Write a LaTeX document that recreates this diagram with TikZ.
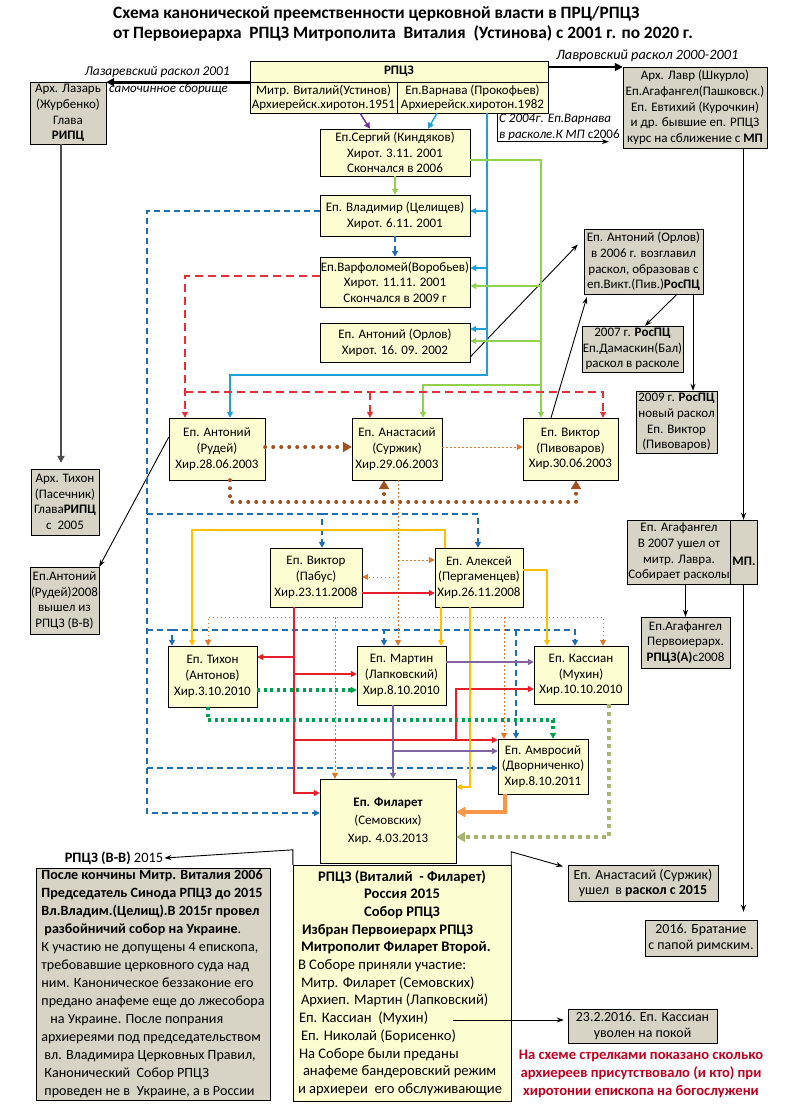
\documentclass[tikz,border=0pt]{standalone}
\usepackage{fontspec}
\setmainfont{Carlito}
\usetikzlibrary{arrows.meta}
\definecolor{yfill}{RGB}{253,253,210}
\definecolor{gfill}{RGB}{215,212,198}
\definecolor{cyanc}{RGB}{30,160,220}
\definecolor{greenc}{RGB}{146,208,80}
\definecolor{bluec}{RGB}{31,110,180}
\definecolor{reddc}{RGB}{225,50,60}
\definecolor{brownc}{RGB}{160,82,30}
\definecolor{orgc}{RGB}{225,120,40}
\definecolor{redc}{RGB}{230,30,40}
\definecolor{yelc}{RGB}{255,192,0}
\definecolor{grndc}{RGB}{0,160,80}
\definecolor{purpc}{RGB}{128,100,162}
\definecolor{orgtc}{RGB}{247,150,70}
\definecolor{olivec}{RGB}{165,180,110}
\definecolor{notec}{RGB}{192,0,32}
\definecolor{vitpurp}{RGB}{112,48,160}
\newcommand\boxfont{\fontsize{13}{15.7}\selectfont}
\newcommand\lowfont{\fontsize{13.9}{15.7}\selectfont}
\begin{document}
\begin{tikzpicture}[x=1pt,y=-1pt,
  ybox/.style={draw,fill=yfill,inner sep=1pt,align=center,font=\boxfont},
  gbox/.style={ybox,fill=gfill},
  lbl/.style={inner sep=1pt,font=\boxfont\itshape},
  tipped/.style={-{Triangle[length=6pt,width=6pt]}},
  bluedash/.style={tipped,bluec,line width=1.8pt,dash pattern=on 6pt off 4pt},
  reddash/.style={tipped,reddc,line width=1.1pt,dash pattern=on 8pt off 5pt},
  cyanline/.style={tipped,cyanc,line width=1.8pt},
  greenline/.style={tipped,greenc,line width=2.4pt},
  browndots/.style={-{Triangle[length=9pt,width=10pt]},brownc,line width=4pt,line cap=round,dash pattern=on 0pt off 8pt},
  orangedots/.style={tipped,orgc,line width=1pt,dash pattern=on 1.5pt off 2.5pt},
  redline/.style={tipped,redc,line width=1.5pt},
  yellowline/.style={tipped,yelc,line width=2.8pt},
  greendots/.style={tipped,grndc,line width=3.2pt,dash pattern=on 3pt off 3.5pt},
  purpleline/.style={tipped,purpc,line width=1.8pt},
  orangeline/.style={-{Triangle[length=9pt,width=10pt]},orgtc,line width=4pt},
  olivedots/.style={-{Triangle[length=9pt,width=10pt]},olivec,line width=4pt,dash pattern=on 4pt off 4pt},
  blackarrow/.style={-{Stealth[length=7pt,width=5pt]},line width=0.9pt},
  thickarrow/.style={-{Triangle[length=8pt,width=8pt]},line width=2.6pt}]
\useasboundingbox (0,0) rectangle (794,1116);

\node[anchor=west,align=left,inner sep=0pt,font=\fontsize{17.3}{20}\selectfont\bfseries] (title) at (113,24)
  {Схема канонической преемственности церковной власти в ПРЦ/РПЦЗ\\от Первоиерарха\ \ РПЦЗ Митрополита\ \ Виталия\ \ (Устинова) с 2001 г. по 2020 г.};

\node[ybox,minimum width=298,minimum height=21,font=\boxfont\bfseries] (rpcz) at (399,71.5) {РПЦЗ};
\node[ybox,minimum width=147,minimum height=31,inner sep=0pt,font=\fontsize{13}{14}\selectfont] (vitaly) at (323.5,97.5) {Митр. Виталий(Устинов)\\Архиерейск.хиротон.1951};
\node[ybox,minimum width=151,minimum height=31,inner sep=0pt,font=\fontsize{13}{14}\selectfont] (varnava) at (472.5,97.5) {Еп.Варнава (Прокофьев)\\Архиерейск.хиротон.1982};

\node[gbox,minimum width=76,minimum height=62] (lazar) at (68,113) {Арх. Лазарь\\(Журбенко)\\Глава\\\textbf{РИПЦ}};
\node[lbl,anchor=east,font=\fontsize{13.4}{15.7}\selectfont\itshape] (lazlbl) at (231,72) {Лазаревский раскол 2001};
\node[lbl,anchor=west] (samlbl) at (108,89) {самочинное сборище};
\node[lbl,anchor=west,font=\fontsize{14.3}{15.7}\selectfont\itshape] (lavrlbl) at (555,56) {Лавровский раскол 2000-2001};
\node[gbox,minimum width=144,minimum height=81] (lavr) at (695,107.5) {Арх. Лавр (Шкурло)\\Еп.Агафангел(Пашковск.)\\Еп. Евтихий (Курочкин)\\и др. бывшие еп. РПЦЗ\\курс на сближение с \textbf{МП}};
\node[lbl,anchor=north west,align=left,inner xsep=2pt] (varnlbl) at (497,113) {С 2004г. Еп.Варнава\\в расколе.К МП \textup{с2006}};

\node[ybox,minimum width=150,minimum height=47] (sergiy) at (395,152.5) {Еп.Сергий (Киндяков)\\Хирот. 3.11. 2001\\Скончался в 2006};
\node[ybox,minimum width=150,minimum height=41] (vlad) at (395,215.5) {Еп. Владимир (Целищев)\\Хирот. 6.11. 2001};
\node[ybox,minimum width=150,minimum height=50] (varf) at (395,282) {Еп.Варфоломей(Воробьев)\\Хирот. 11.11. 2001\\Скончался в 2009 г};
\node[ybox,minimum width=150,minimum height=39] (antorl) at (395,342.5) {Еп. Антоний (Орлов)\\Хирот. 16. 09. 2002};

\node[gbox,minimum width=119,minimum height=65] (orl2006) at (643.5,261.5) {Еп. Антоний (Орлов)\\в 2006 г. возглавил\\раскол, образовав с\\еп.Викт.(Пив.)\textbf{РосПЦ}};
\node[gbox,minimum width=99,minimum height=46] (r2007) at (632.5,349) {2007 г. \textbf{РосПЦ}\\Еп.Дамаскин(Бал)\\раскол в расколе};
\node[gbox,minimum width=81,minimum height=62] (r2009) at (676.5,422) {2009 г. \textbf{РосПЦ}\\новый раскол\\Еп. Виктор\\(Пивоваров)};

\node[ybox,minimum width=96,minimum height=62] (antrud) at (217,449) {Еп. Антоний\\(Рудей)\\Хир.28.06.2003};
\node[ybox,minimum width=90,minimum height=62] (anast) at (397,449) {Еп. Анастасий\\(Суржик)\\Хир.29.06.2003};
\node[ybox,minimum width=95,minimum height=62] (vikpiv) at (570.5,449) {Еп. Виктор\\(Пивоваров)\\Хир.30.06.2003};

\node[gbox,minimum width=68,minimum height=66] (tikhonp) at (65,502) {Арх. Тихон\\(Пасечник)\\Глава\textbf{РИПЦ}\\с\ \ 2005};
\node[gbox,minimum width=69,minimum height=67] (ant2008) at (64.5,600.5) {Еп.Антоний\\(Рудей)2008\\вышел из\\РПЦЗ (В-В)};

\node[gbox,minimum width=102,minimum height=64] (agafl) at (679,552) {Еп. Агафангел\\В 2007 ушел от\\митр. Лавра.\\Собирает расколы};
\node[gbox,minimum width=27,minimum height=64] (agafmp) at (743.5,552) {};
\node[inner sep=0pt,font=\boxfont\bfseries] (mplbl) at (744,561) {МП.};
\node[gbox,minimum width=89,minimum height=51] (agaf2) at (685.5,642.5) {Еп.Агафангел\\Первоиерарх.\\\textbf{РПЦЗ(А)}с2008};

\node[ybox,minimum width=92,minimum height=59] (pabus) at (316,577.5) {Еп. Виктор\\(Пабус)\\Хир.23.11.2008};
\node[ybox,minimum width=88,minimum height=59] (alexey) at (479,577.5) {Еп. Алексей\\(Пергаменцев)\\Хир.26.11.2008};
\node[ybox,minimum width=89,minimum height=61] (tikhon) at (212.5,676.5) {Еп. Тихон\\(Антонов)\\Хир.3.10.2010};
\node[ybox,minimum width=89,minimum height=59] (martin) at (401.5,675.5) {Еп. Мартин\\(Лапковский)\\Хир.8.10.2010};
\node[ybox,minimum width=94,minimum height=58] (kassian) at (581,675) {Еп. Кассиан\\(Мухин)\\Хир.10.10.2010};
\node[ybox,minimum width=90,minimum height=55] (amb) at (543,766.5) {Еп. Амвросий\\(Дворниченко)\\Хир.8.10.2011};
\node[ybox,minimum width=136,minimum height=84,font=\fontsize{13}{17.8}\selectfont] (filaret) at (388,821) {\textbf{Еп. Филарет}\\(Семовских)\\Хир. 4.03.2013};

\node[ybox,minimum width=218,minimum height=236,align=left,inner xsep=4pt,font=\fontsize{14.6}{17.7}\selectfont] (sobor) at (402,983)
  {\makebox[208pt]{\bfseries РПЦЗ (Виталий\ \ - Филарет)}\\\makebox[208pt]{\bfseries Россия 2015}\\\makebox[208pt]{\bfseries Собор РПЦЗ}\\
   \hspace*{4pt}\textbf{Избран Первоиерарх РПЦЗ}\\\hspace*{3pt}\textbf{Митрополит Филарет Второй.}\\В Соборе приняли участие:\\
   \hspace*{3pt}Митр. Филарет (Семовских)\\\hspace*{3pt}Архиеп. Мартин (Лапковский)\\\hspace*{1pt}Еп. Кассиан\ \ (Мухин)\\
   \hspace*{3pt}Еп. Николай (Борисенко)\\\hspace*{1pt}На Соборе были преданы\\\hspace*{5pt}анафеме бандеровский режим\\и архиереи\ \ его обслуживающие};
\coordinate (kasend) at (453,1020);
\node[gbox,minimum width=234,minimum height=232,align=left,inner xsep=1pt,font=\fontsize{14.1}{18}\selectfont] (posle) at (153,984)
  {\textbf{После кончины Митр. Виталия 2006}\\\textbf{Председатель Синода РПЦЗ до 2015}\\\textbf{Вл.Владим.(Целищ).В 2015г провел}\\
   \hspace*{3pt}\textbf{разбойничий собор на Украине}.\\К участию не допущены 4 епископа,\\требовавшие церковного суда над\\
   ним. Каноническое беззаконие его\\предано анафеме еще до лжесобора\\\hspace*{9pt}на Украине. После попрания\\
   архиереями под председательством\\\hspace*{3pt}вл. Владимира Церковных Правил,\\\hspace*{3pt}Канонический\ \ Собор РПЦЗ\\
   \hspace*{3pt}проведен не в\ \ Украине, а в России};
\node[inner sep=1pt,font=\fontsize{14.4}{15.7}\selectfont] (rpczvv) at (114,858) {\textbf{РПЦЗ (В-В)} 2015};
\node[gbox,minimum width=150,minimum height=36,font=\lowfont] (anastraskol) at (643,883) {Еп. Анастасий (Суржик)\\ушел\ \ в \textbf{раскол с 2015}};
\node[gbox,minimum width=112,minimum height=36,font=\lowfont] (bratanie) at (701,938) {2016. Братание\\с папой римским.};
\node[gbox,minimum width=149,minimum height=34,font=\lowfont] (kassianpokoy) at (642.5,1026) {23.2.2016. Еп. Кассиан\\уволен на покой};
\node[align=center,text=notec,font=\fontsize{14.6}{17.8}\selectfont\bfseries] (note) at (641,1074)
  {На схеме стрелками показано сколько\\архиереев присутствовало (и кто) при\\хиротонии епископа на богослужени};

% black arrows
\draw[thickarrow] (rpcz.south west) -- (lazar.east |- rpcz.south west);
\draw[thickarrow,line width=1.6pt] (rpcz.east |- 0,67) -- (lavr.west |- 0,67);
\draw[line width=0.8pt] (varnlbl.north west) -- (varnlbl.south west);
\draw[blackarrow,line width=1.4pt,shorten >=14pt] (varnlbl.south west) -- (lavr.west |- varnlbl.south west);
\draw[-{Triangle[length=7pt,width=7pt]},line width=1.8pt,black!70,shorten >=6pt] (61,0 |- lazar.south) -- (61,0 |- tikhonp.north);
\draw[blackarrow] (antorl.east |- 0,357) -- ([shift={(-6pt,17pt)}]orl2006.west);
\draw[blackarrow] (551,0 |- vikpiv.north) -- ([shift={(3pt,-3pt)}]orl2006.south west);
\draw[blackarrow] (677,0 |- orl2006.south) -- (645,0 |- r2007.north);
\draw[blackarrow] (693,0 |- orl2006.south) -- (693,0 |- r2009.north);
\draw[blackarrow,line width=1.2pt] (agafmp.north |- lavr.south) -- (agafmp.north);
\draw[blackarrow] (agaf2.north |- agafl.south) -- (agaf2.north);
\draw[blackarrow,line width=1.2pt,shorten >=8pt] (agafmp.south) -- (agafmp.south |- bratanie.north);
\draw[blackarrow] (antrud.west |- 0,437) -- (ant2008.north east);
\draw[blackarrow] (sobor.north west) -- ++(0,-15) -- (rpczvv.east);
\draw[blackarrow,shorten >=5pt] (sobor.north east) -- ++(0,-13) -- ([yshift=-3pt]anastraskol.north west);
\draw[blackarrow,shorten >=4pt] (kasend) -- (kassianpokoy.west |- kasend);

% first bishops
\draw[tipped,vitpurp,line width=1.4pt] (360,0 |- vitaly.south) -- (370,0 |- sergiy.north);
\draw[cyanline,line width=1.4pt] (437,0 |- varnava.south) -- (428,0 |- sergiy.north);
\draw[cyanline] (487,0 |- varnava.south) |- (230,375) -- (230,0 |- antrud.north);
\draw[cyanline] (487,211) -- (vlad.east |- 0,211);
\draw[cyanline] (487,268) -- (varf.east |- 0,268);
\draw[cyanline] (487,329) -- (antorl.east |- 0,329);
\draw[greenline] (sergiy.south) -- (vlad.north);
\draw[greenline] (sergiy.east |- 0,160) -| (541,0 |- vikpiv.north);
\draw[greenline] (541,286) -- (varf.east |- 0,286);
\draw[greenline] (541,341) -- (antorl.east |- 0,341);
\draw[greenline] (541,385) -| (423,0 |- anast.north);
\draw[reddash] (varf.west |- 0,276) -| (185,0 |- antrud.north);
\draw[reddash] (185,392) -| (603,0 |- vikpiv.north);
\draw[reddash] (370,392) -- (370,0 |- anast.north);
\draw[bluedash] (vlad.south) -- (varf.north);
\draw[bluedash] (vlad.west |- 0,211) -| (147,813) -- (filaret.west |- 0,813);
\draw[bluedash] (147,514) -| (322,0 |- pabus.north);
\draw[bluedash] (322,514) -| (478,0 |- alexey.north);
\draw[bluedash] (147,630) -| (172,0 |- tikhon.north);
\draw[bluedash] (172,630) -| (384,0 |- martin.north);
\draw[bluedash] (384,630) -| (575,0 |- kassian.north);
\draw[bluedash] (516,630) -- (516,0 |- amb.north);
\draw[bluedash] (147,768) -- (amb.west |- 0,768);

% 2003 and later
\draw[browndots] (antrud.east |- 0,447) -- (anast.west |- 0,447);
\draw[browndots] (230,0 |- antrud.south) |- (576,502) -- (576,0 |- vikpiv.south);
\draw[browndots] (384,502) -- (384,0 |- anast.south);
\draw[orangedots] (anast.east |- 0,447) -- (vikpiv.west |- 0,447);
\draw[orangedots] (398,0 |- anast.south) -- (398,0 |- martin.north);
\draw[orangedots] (398,560) -- (alexey.west |- 0,560);
\draw[orangedots] (398,577) -- (pabus.east |- 0,577);
\draw[orangedots,{Triangle[length=6pt,width=6pt]}-{Triangle[length=6pt,width=6pt]}] (208,0 |- tikhon.north) |- (603,617) -- (603,0 |- kassian.north);
\draw[orangedots] (335,617) -- (335,0 |- filaret.north);
\draw[orangedots] (504,617) -- (504,0 |- amb.north);
\draw[redline] (pabus.east |- 0,593) -- (alexey.west |- 0,593);
\draw[redline] (294,0 |- pabus.south) |- (filaret.west |- 0,793);
\draw[redline] (294,657) -- (tikhon.east |- 0,657);
\draw[redline] (294,674) -- (martin.west |- 0,674);
\draw[redline] (294,740) -- (amb.west |- 0,740);
\draw[redline] (456,740) |- (kassian.west |- 0,689);
\draw[yellowline] (445,0 |- alexey.north) |- (192,530) -- (192,0 |- tikhon.north);
\draw[yellowline] (alexey.east |- 0,570) -| (547,0 |- kassian.north);
\draw[yellowline] (441,0 |- alexey.south) -- (441,0 |- martin.north);
\draw[yellowline] (470,0 |- alexey.south) |- (filaret.east |- 0,787);
\draw[greendots] (tikhon.east |- 0,690) -- (martin.west |- 0,690);
\draw[greendots] (208,0 |- tikhon.south) |- (553,720) -- (553,0 |- amb.north);
\draw[purpleline] (martin.east |- 0,662) -- (kassian.west |- 0,662);
\draw[purpleline] (393,0 |- martin.south) -- (393,0 |- filaret.north);
\draw[purpleline] (393,751) -- (amb.west |- 0,751);
\draw[orangeline] (505,0 |- amb.south) |- (filaret.east |- 0,812);
\draw[olivedots] (609,0 |- kassian.south) |- (filaret.east |- 0,837);
\end{tikzpicture}
\end{document}
